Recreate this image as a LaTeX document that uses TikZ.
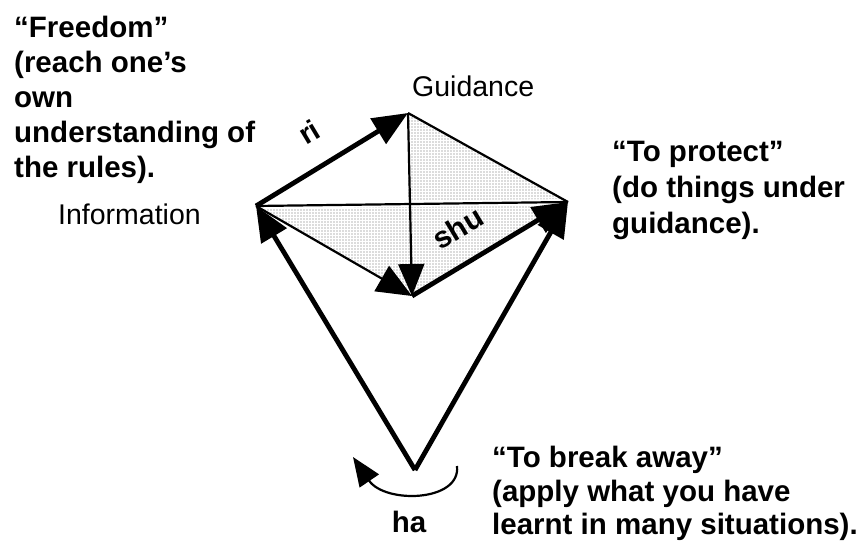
\documentclass[tikz,border=0pt]{standalone}
\usepackage{fontspec}
\setmainfont{Liberation Sans}
\usetikzlibrary{arrows.meta,patterns}
\pgfdeclarepatternformonly{bigdots}{\pgfpointorigin}{\pgfpoint{3.4pt}{3.4pt}}{\pgfpoint{3.4pt}{3.4pt}}{%
  \pgfpathcircle{\pgfpoint{1.2pt}{1.2pt}}{0.65pt}\pgfusepath{fill}}
\begin{document}
\begin{tikzpicture}[x=1pt,y=-1pt,
  thickline/.style={line width=4.8pt},
  thinline/.style={line width=2.2pt},
  bighead/.style={-{Triangle[length=35pt,width=29pt]}},
  midhead/.style={-{Triangle[length=32pt,width=26pt]}},
  boldtext/.style={font=\bfseries\fontsize{29.5}{35}\selectfont, inner sep=0pt, align=left},
  plaintext/.style={font=\fontsize{28.5}{34}\selectfont, inner sep=0pt},
  shade/.style={pattern=bigdots, pattern color=black!60}]
\useasboundingbox (0,0) rectangle (864,546);
% key points
\coordinate (I) at (256,206);
\coordinate (G) at (408,113);
\coordinate (R) at (568,202);
\coordinate (B) at (412,296);
\coordinate (H) at (415,470);
\coordinate (X) at (408,204);
\coordinate (cs) at (457,466);
\coordinate (ce) at (353,457);
% shading
\fill[shade] (G) -- (R) -- (X) -- cycle;
\fill[shade] (I) -- (R) -- (B) -- cycle;
% thin lines
\draw[white, line width=6pt] (I) -- (R);
\draw[thinline] (I) -- (R);
\draw[thinline] (G) -- (R);
\draw[thinline, midhead] (G) -- (B);
\draw[thinline, bighead] (I) -- (B);
% thick arrows
\draw[thickline, bighead] (I) -- (G);
\draw[thickline, bighead] (B) -- (R);
\draw[thickline, bighead] (H) -- (R);
\draw[thickline, bighead] (H) -- (I);
% curved arrow
\draw[thinline, -{Triangle[length=29pt,width=23pt]}] (cs) .. controls (461,502) and (385,504) .. (ce);
% labels
\node[plaintext, anchor=base west] (guid) at (412,96) {Guidance};
\node[plaintext, anchor=base west] (info) at (58,224) {Information};
\node[boldtext, rotate=31, font=\bfseries\fontsize{29}{34}\selectfont] (ri) at (309,132) {ri};
\node[boldtext, rotate=31, font=\bfseries\fontsize{30}{34}\selectfont] (shu) at (458,228) {shu};
\node[boldtext, anchor=base] (ha) at (409,532) {ha};
\node[boldtext, anchor=north west] (free) at (14,16) {“Freedom”\\(reach one’s\\own\\understanding of\\the rules).};
\node[boldtext, anchor=north west, font=\bfseries\fontsize{29.5}{36}\selectfont] (prot) at (612,141) {“To protect”\\(do things under\\guidance).};
\node[boldtext, anchor=north west, font=\bfseries\fontsize{29.5}{33.5}\selectfont] (brk) at (492,446) {“To break away”\\(apply what you have\\learnt in many situations).};
\end{tikzpicture}
\end{document}
